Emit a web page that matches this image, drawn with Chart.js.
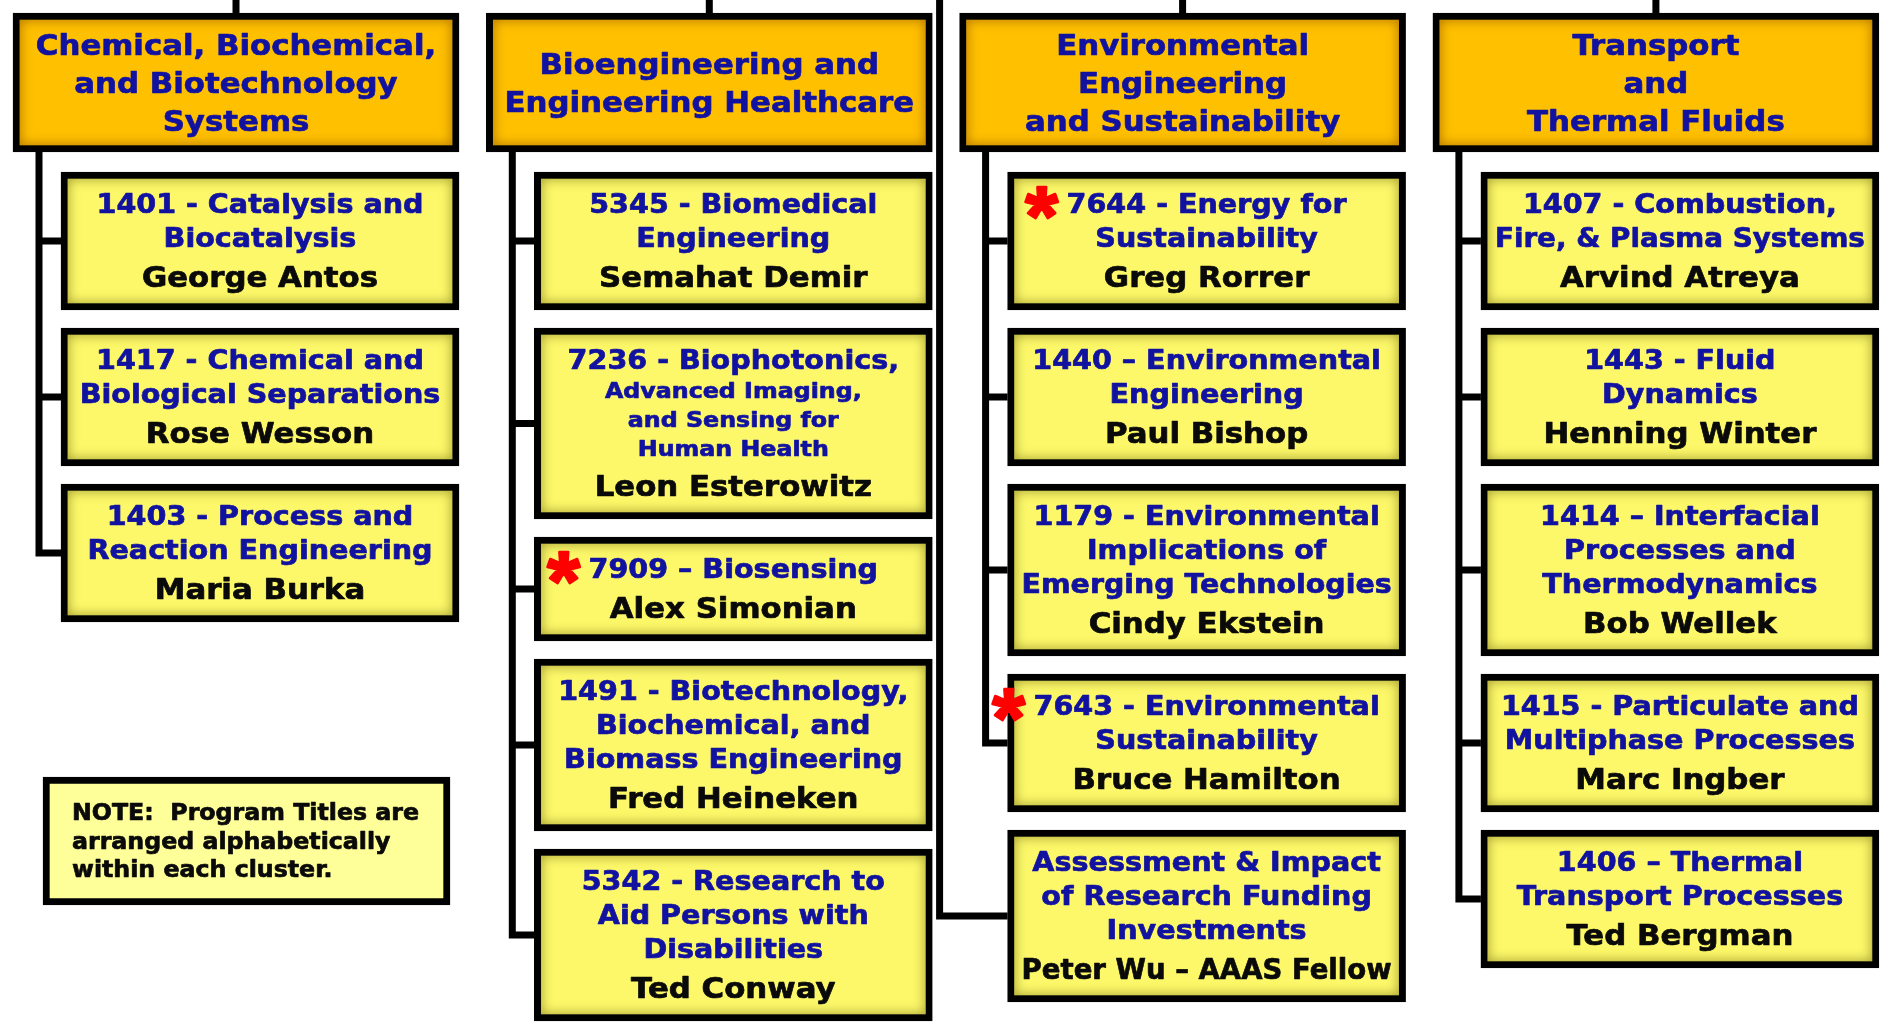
<!DOCTYPE html>
<html>
<head>
<meta charset="utf-8">
<title>Clusters et programmes</title>
<script src="https://cdn.jsdelivr.net/npm/chart.js@4.4.1/dist/chart.umd.min.js"></script>
<style>
    html, body { margin: 0; padding: 0; background: #ffffff; }
    #wrap { width: 1888px; height: 1026px; position: relative; }
</style>
</head>
<body>
<div id="wrap"><canvas id="orgChart"></canvas></div>
<script>
// Titres des clusters (une entrée par colonne)
const clusterTitles = [
    ['Chemical, Biochemical,', 'and Biotechnology', 'Systems'],
    ['Bioengineering and', 'Engineering Healthcare'],
    ['Environmental', 'Engineering', 'and Sustainability'],
    ['Transport', 'and', 'Thermal Fluids']
];

// Programmes du cluster 1
const chemicalTitles = [
    ['1401 - Catalysis and', 'Biocatalysis'],
    ['1417 - Chemical and', 'Biological Separations'],
    ['1403 - Process and', 'Reaction Engineering']
];
const chemicalLeads = ['George Antos', 'Rose Wesson', 'Maria Burka'];

// Programmes du cluster 2
const bioTitles = [
    ['5345 - Biomedical', 'Engineering'],
    ['7236 - Biophotonics,', 'Advanced Imaging,', 'and Sensing for', 'Human Health'],
    ['7909 \u2013 Biosensing'],
    ['1491 - Biotechnology,', 'Biochemical, and', 'Biomass Engineering'],
    ['5342 - Research to', 'Aid Persons with', 'Disabilities']
];
const bioLeads = ['Semahat Demir', 'Leon Esterowitz', 'Alex Simonian', 'Fred Heineken', 'Ted Conway'];

// Programmes du cluster 3
const envTitles = [
    ['7644 - Energy for', 'Sustainability'],
    ['1440 \u2013 Environmental', 'Engineering'],
    ['1179 - Environmental', 'Implications of', 'Emerging Technologies'],
    ['7643 - Environmental', 'Sustainability'],
    ['Assessment & Impact', 'of Research Funding', 'Investments']
];
const envLeads = ['Greg Rorrer', 'Paul Bishop', 'Cindy Ekstein', 'Bruce Hamilton', 'Peter Wu \u2013 AAAS Fellow'];

// Programmes du cluster 4
const thermalTitles = [
    ['1407 - Combustion,', 'Fire, & Plasma Systems'],
    ['1443 - Fluid', 'Dynamics'],
    ['1414 \u2013 Interfacial', 'Processes and', 'Thermodynamics'],
    ['1415 - Particulate and', 'Multiphase Processes'],
    ['1406 \u2013 Thermal', 'Transport Processes']
];
const thermalLeads = ['Arvind Atreya', 'Henning Winter', 'Bob Wellek', 'Marc Ingber', 'Ted Bergman'];

// Programmes marqués d'un astérisque rouge
const newProgramCodes = ['7909', '7644', '7643'];
// Titres dont les lignes suivantes sont écrites plus petit
const compactTitleCodes = ['7236'];
// Boîte reliée directement par la ligne venant du haut
const directLinkTitles = ['Assessment & Impact'];

// Texte de la note
const noteLines = ['NOTE:  Program Titles are', 'arranged alphabetically', 'within each cluster.'];

const programTitles = [chemicalTitles, bioTitles, envTitles, thermalTitles];
const programLeads = [chemicalLeads, bioLeads, envLeads, thermalLeads];

// Mise en page (unités des axes)
const LAYOUT = {
    width: 1888, height: 1026,
    colLeft: 13, colPitch: 473.3, headWidth: 446,
    headTop: 13, headBottom: 152, headLine: 38,
    indent: 48, trunkOffset: 26,
    firstTop: 172, gap: 18,
    padTop: 41, padBottom: 23, advBig: 34, advSmall: 29, advName: 40,
    border: 7,
    note: { offset: 30, width: 407, top: 777, bottom: 905, padLeft: 29, padTop: 43, line: 28.5 }
};

const FONTS = {
    family: '"DejaVu Sans", Verdana, sans-serif',
    head: { size: 28, sx: 1.1 },
    title: { size: 26, sx: 1.1 },
    small: { size: 21, sx: 1.13 },
    name: { size: 28, sx: 1.1 },
    note: { size: 23, sx: 1.03 }
};

const COLORS = {
    blue: '#1212a0',
    black: '#0a0a0a',
    head: '#ffc000',
    headShade: 'rgba(165, 105, 0, 0.95)',
    box: '#fcf86a',
    boxShade: 'rgba(125, 118, 20, 0.85)',
    note: '#ffff99',
    star: '#ff0000'
};

const OrgChart = {
    chart: null,
    headers: [],
    boxes: [],

    // Initialisation
    init() {
        const ctx = document.getElementById('orgChart');
        if (!ctx) return;

        this.buildLayout();
        const self = this;

        // Ombre intérieure des boîtes
        const shadePlugin = {
            id: 'boxShade',
            afterDatasetsDraw(chart) {
                const c = chart.ctx;
                chart.data.datasets.forEach((ds, i) => {
                    if (!ds.shade) return;
                    const bw = ds.borderWidth;
                    chart.getDatasetMeta(i).data.forEach(el => {
                        const p = el.getProps(['x', 'y', 'base', 'width'], true);
                        const l = p.x - p.width / 2 + bw;
                        const r = p.x + p.width / 2 - bw;
                        const t = Math.min(p.y, p.base) + bw;
                        const b = Math.max(p.y, p.base) - bw;
                        c.save();
                        c.beginPath();
                        c.rect(l, t, r - l, b - t);
                        c.clip();
                        c.shadowColor = ds.shade;
                        c.shadowBlur = 12;
                        c.lineWidth = 10;
                        c.strokeStyle = ds.shade;
                        c.strokeRect(l - 5, t - 5, r - l + 10, b - t + 10);
                        c.restore();
                    });
                });
            }
        };

        // Textes des boîtes
        const labelPlugin = {
            id: 'boxLabels',
            afterDatasetsDraw(chart) {
                self.drawLabels(chart);
            }
        };

        this.chart = new Chart(ctx, {
            type: 'bar',
            data: {
                datasets: [
                    {
                        type: 'line',
                        label: 'liens',
                        data: this.buildConnectors(),
                        borderColor: '#000000',
                        borderWidth: LAYOUT.border,
                        pointRadius: 0,
                        spanGaps: false,
                        tension: 0,
                        fill: false,
                        borderCapStyle: 'butt',
                        borderJoinStyle: 'miter',
                        order: 2
                    },
                    {
                        label: 'clusters',
                        data: this.headers.map(h => ({ x: (h.left + h.right) / 2, y: [h.top, h.bottom] })),
                        backgroundColor: COLORS.head,
                        borderColor: '#000000',
                        borderWidth: LAYOUT.border,
                        borderSkipped: false,
                        barThickness: LAYOUT.headWidth,
                        grouped: false,
                        shade: COLORS.headShade,
                        order: 1
                    },
                    {
                        label: 'programmes',
                        data: this.boxes.map(b => ({ x: (b.left + b.right) / 2, y: [b.top, b.bottom] })),
                        backgroundColor: COLORS.box,
                        borderColor: '#000000',
                        borderWidth: LAYOUT.border,
                        borderSkipped: false,
                        barThickness: LAYOUT.headWidth - LAYOUT.indent,
                        grouped: false,
                        shade: COLORS.boxShade,
                        order: 1
                    },
                    {
                        label: 'note',
                        data: [{ x: this.note.left + LAYOUT.note.width / 2, y: [this.note.top, this.note.bottom] }],
                        backgroundColor: COLORS.note,
                        borderColor: '#000000',
                        borderWidth: LAYOUT.border,
                        borderSkipped: false,
                        barThickness: LAYOUT.note.width,
                        grouped: false,
                        order: 1
                    }
                ]
            },
            options: {
                responsive: true,
                maintainAspectRatio: false,
                devicePixelRatio: 1,
                animation: false,
                events: [],
                layout: { padding: 0 },
                plugins: {
                    legend: { display: false },
                    tooltip: { enabled: false },
                    title: { display: false }
                },
                scales: {
                    x: {
                        type: 'linear', min: 0, max: LAYOUT.width, offset: false, display: false,
                        grid: { display: false }, ticks: { display: false }
                    },
                    y: {
                        type: 'linear', min: 0, max: LAYOUT.height, reverse: true, offset: false, display: false,
                        grid: { display: false }, ticks: { display: false }
                    }
                }
            },
            plugins: [shadePlugin, labelPlugin]
        });
    },

    // Calcul des boîtes à partir du nombre de lignes
    buildLayout() {
        const L = LAYOUT;
        this.headers = clusterTitles.map((lines, c) => {
            const left = L.colLeft + c * L.colPitch;
            return { c, left, right: left + L.headWidth, top: L.headTop, bottom: L.headBottom, lines };
        });

        this.boxes = [];
        programTitles.forEach((titles, c) => {
            const head = this.headers[c];
            let top = L.firstTop;
            titles.forEach((lines, i) => {
                const code = lines[0].slice(0, 4);
                const compact = compactTitleCodes.includes(code);
                const baselines = [top + L.padTop];
                for (let k = 1; k < lines.length; k++) {
                    baselines.push(baselines[k - 1] + (compact ? L.advSmall : L.advBig));
                }
                const nameBase = baselines[baselines.length - 1] + L.advName;
                const bottom = nameBase + L.padBottom;
                this.boxes.push({
                    c, left: head.left + L.indent, right: head.right, top, bottom,
                    lines, compact, baselines, nameBase,
                    lead: programLeads[c][i],
                    star: newProgramCodes.includes(code),
                    direct: directLinkTitles.includes(lines[0])
                });
                top = bottom + L.gap;
            });
        });

        const left = this.headers[0].left + L.note.offset;
        this.note = { left, right: left + L.note.width, top: L.note.top, bottom: L.note.bottom };
    },

    // Lignes de liaison (null = coupure)
    buildConnectors() {
        const pts = [];
        const cut = x => pts.push({ x, y: null });

        this.headers.forEach(h => {
            const cx = (h.left + h.right) / 2;
            pts.push({ x: cx, y: 0 }, { x: cx, y: h.top });
            cut(cx);

            const kids = this.boxes.filter(b => b.c === h.c && !b.direct);
            const tx = h.left + LAYOUT.trunkOffset;
            kids.forEach((b, i) => {
                const my = (b.top + b.bottom) / 2;
                if (i === kids.length - 1) {
                    pts.push({ x: tx, y: h.bottom }, { x: tx, y: my }, { x: b.left, y: my });
                } else {
                    pts.push({ x: tx, y: my }, { x: b.left, y: my });
                }
                cut(b.left);
            });
        });

        this.boxes.filter(b => b.direct).forEach(b => {
            const ox = b.left - LAYOUT.indent - 20;
            const my = (b.top + b.bottom) / 2;
            pts.push({ x: ox, y: 0 }, { x: ox, y: my }, { x: b.left, y: my });
            cut(b.left);
        });
        return pts;
    },

    // Texte étiré horizontalement (avec léger contour pour l'épaisseur)
    stretchText(c, text, x, y, font, maxWidth, align) {
        c.font = 'bold ' + font.size + 'px ' + FONTS.family;
        const w = c.measureText(text).width;
        const sx = Math.min(font.sx, maxWidth / w);
        c.save();
        c.translate(x, y);
        c.scale(sx, 1);
        c.textAlign = align || 'center';
        c.textBaseline = 'alphabetic';
        c.strokeStyle = c.fillStyle;
        c.lineWidth = 0.7;
        c.lineJoin = 'round';
        c.fillText(text, 0, 0);
        c.strokeText(text, 0, 0);
        c.restore();
        return w * sx;
    },

    // Astérisque rouge centré sur (x, y)
    drawStar(c, x, y) {
        const fam = '"Liberation Sans", Arial, sans-serif';
        c.save();
        c.font = 'bold 100px ' + fam;
        let m = c.measureText('*');
        const h = m.actualBoundingBoxAscent + m.actualBoundingBoxDescent;
        const size = 100 * 32 / h;
        c.font = 'bold ' + size + 'px ' + fam;
        m = c.measureText('*');
        const base = y - (m.actualBoundingBoxDescent - m.actualBoundingBoxAscent) / 2;
        c.fillStyle = COLORS.star;
        c.strokeStyle = COLORS.star;
        c.lineWidth = 2.5;
        c.lineJoin = 'round';
        c.textAlign = 'center';
        c.fillText('*', x, base);
        c.strokeText('*', x, base);
        c.restore();
    },

    // Dessin de tous les textes
    drawLabels(chart) {
        const c = chart.ctx;
        const xs = chart.scales.x;
        const ys = chart.scales.y;
        const inner = LAYOUT.border * 2 + 14;

        this.headers.forEach(h => {
            const l = xs.getPixelForValue(h.left);
            const r = xs.getPixelForValue(h.right);
            const mid = (ys.getPixelForValue(h.top) + ys.getPixelForValue(h.bottom)) / 2;
            const cap = FONTS.head.size * 0.365;
            c.fillStyle = COLORS.blue;
            h.lines.forEach((line, i) => {
                const y = mid + cap + (i - (h.lines.length - 1) / 2) * LAYOUT.headLine;
                this.stretchText(c, line, (l + r) / 2, y, FONTS.head, r - l - inner);
            });
        });

        this.boxes.forEach(b => {
            const l = xs.getPixelForValue(b.left);
            const r = xs.getPixelForValue(b.right);
            const cx = (l + r) / 2;
            b.lines.forEach((line, i) => {
                const font = (b.compact && i > 0) ? FONTS.small : FONTS.title;
                const y = ys.getPixelForValue(b.baselines[i]);
                c.fillStyle = COLORS.blue;
                const w = this.stretchText(c, line, cx, y, font, r - l - inner);
                if (b.star && i === 0) this.drawStar(c, cx - w / 2 - 25, y - 10);
            });
            c.fillStyle = COLORS.black;
            this.stretchText(c, b.lead, cx, ys.getPixelForValue(b.nameBase), FONTS.name, r - l - inner);
        });

        const n = LAYOUT.note;
        const nl = xs.getPixelForValue(this.note.left) + n.padLeft;
        c.fillStyle = COLORS.black;
        noteLines.forEach((line, i) => {
            const y = ys.getPixelForValue(this.note.top + n.padTop + i * n.line);
            this.stretchText(c, line, nl, y, FONTS.note, 1000, 'left');
        });
    }
};

document.addEventListener('DOMContentLoaded', () => OrgChart.init());
</script>
</body>
</html>
